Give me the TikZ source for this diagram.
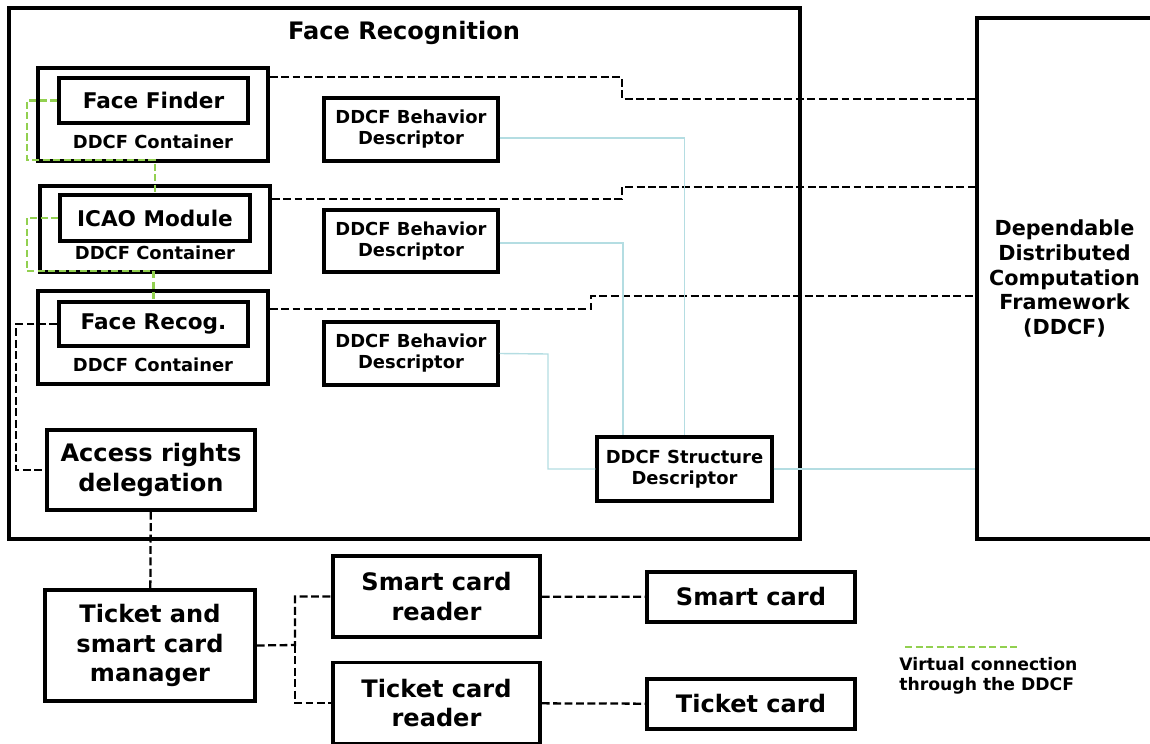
\documentclass[tikz,border=0pt]{standalone}
\usepackage{fontspec}
\setmainfont{DejaVu Sans}
\usetikzlibrary{positioning}
\definecolor{vgreen}{HTML}{92D050}
\definecolor{descblue}{HTML}{B4DDE2}

\begin{document}
\begin{tikzpicture}
  [x=0.02cm,y=-0.02cm,
   box/.style={draw,line width=2pt,inner sep=0pt,align=center},
   big/.style={font=\fontsize{13.7}{17}\selectfont\bfseries},
   mid/.style={font=\fontsize{12.3}{15}\selectfont\bfseries},
   small/.style={font=\fontsize{10.2}{12}\selectfont\bfseries},
   ddcfline/.style={line width=1.3pt,dash pattern=on 4.5pt off 2pt},
   virtline/.style={draw=vgreen,line width=1.3pt,dash pattern=on 4pt off 2pt},
   descline/.style={draw=descblue,line width=0.8pt}]
  \clip (0,0) rectangle (1150,744);
  \useasboundingbox (0,0) rectangle (1150,744);

  % frames
  \node[box,minimum width=15.82cm,minimum height=10.62cm] (frec) at (404.5,273.5) {};
  \node[big,inner sep=0pt] (frectitle) at (404,33) {Face Recognition};
  \node[box,minimum width=3.5cm,minimum height=10.42cm,
        font=\fontsize{11.8}{14.2}\selectfont\bfseries] (ddcf) at (1064.5,278.5)
        {Dependable\\Distributed\\Computation\\Framework\\(DDCF)};

  % containers
  \node[box,minimum width=4.6cm,minimum height=1.86cm] (cont1) at (153,114.5) {};
  \node[box,minimum width=4.6cm,minimum height=1.72cm] (cont2) at (155,229) {};
  \node[box,minimum width=4.6cm,minimum height=1.86cm] (cont3) at (153,337.5) {};
  \node[box,mid,minimum width=3.78cm,minimum height=0.9cm] (ffind) at (153.5,100.5) {Face Finder};
  \node[box,mid,minimum width=3.8cm,minimum height=0.92cm] (icao) at (155,218) {ICAO Module};
  \node[box,mid,minimum width=3.78cm,minimum height=0.88cm] (frecog) at (153.5,324) {Face Recog.};
  \node[small,inner sep=0pt] (c1lbl) at (153,142) {DDCF Container};
  \node[small,inner sep=0pt] (c2lbl) at (155,253) {DDCF Container};
  \node[small,inner sep=0pt] (c3lbl) at (153,365) {DDCF Container};

  % descriptors
  \node[box,small,minimum width=3.48cm,minimum height=1.26cm] (bd1) at (411,129.5) {DDCF Behavior\\Descriptor};
  \node[box,small,minimum width=3.48cm,minimum height=1.24cm] (bd2) at (411,241) {DDCF Behavior\\Descriptor};
  \node[box,small,minimum width=3.48cm,minimum height=1.26cm] (bd3) at (411,353.5) {DDCF Behavior\\Descriptor};
  \node[box,small,minimum width=3.5cm,minimum height=1.28cm] (sd) at (684.5,469) {DDCF Structure\\Descriptor};

  % access and cards
  \node[box,big,minimum width=4.16cm,minimum height=1.6cm] (access) at (151,470) {Access rights\\delegation};
  \node[box,big,minimum width=4.2cm,minimum height=2.22cm] (manager) at (150,645.5) {Ticket and\\smart card\\manager};
  \node[box,big,minimum width=4.14cm,minimum height=1.62cm] (screader) at (436.5,596.5) {Smart card\\reader};
  \node[box,big,minimum width=4.14cm,minimum height=1.62cm] (tcreader) at (436.5,703) {Ticket card\\reader};
  \node[box,big,minimum width=4.16cm,minimum height=1.0cm] (scard) at (751,597) {Smart card};
  \node[box,big,minimum width=4.16cm,minimum height=1.0cm] (tcard) at (751,704) {Ticket card};

  % legend
  \coordinate (leg1) at (905,647);
  \coordinate (leg2) at (1020,647);
  \node[small,align=left,anchor=north west,inner sep=0pt,
        font=\fontsize{9.8}{11.5}\selectfont\bfseries] (legtxt) at (899,657)
        {Virtual connection\\through the DDCF};

  % links to the framework
  \draw[ddcfline] (cont1.east |- 0,77) -- (622,77) |- (ddcf.west |- 0,99);
  \draw[ddcfline] (cont2.east |- 0,199) -- (622,199) |- (ddcf.west |- 0,187);
  \draw[ddcfline] (cont3.east |- 0,309) -- (591,309) |- (ddcf.west |- 0,296);

  % descriptor links
  \draw[descline] (bd1.east |- 0,138) -| (sd.north);
  \draw[descline] (bd2.east |- 0,243) -| (sd.north -| 623,0);
  \draw[descline] (bd3.east) -- (548,354) |- (sd.west);
  \draw[descline] (sd.east) -- (ddcf.west |- sd.east);

  % virtual connections
  \draw[virtline] (ffind.west) -| (27,160) -| (icao.north);
  \draw[virtline] (icao.west) -| (27,271) -| (frecog.north);
  \draw[virtline] (leg1) -- (leg2);

  % physical links
  \draw[ddcfline] (frecog.west) -- (16,324) |- (access.west);
  \draw[ddcfline] (manager.east) -- (295,645) |- (screader.west);
  \draw[ddcfline] (295,645) |- (tcreader.west);
  \foreach \from/\to in {access/manager,screader/scard,tcreader/tcard}
    \draw[ddcfline] (\from) -- (\to);
\end{tikzpicture}
\end{document}
